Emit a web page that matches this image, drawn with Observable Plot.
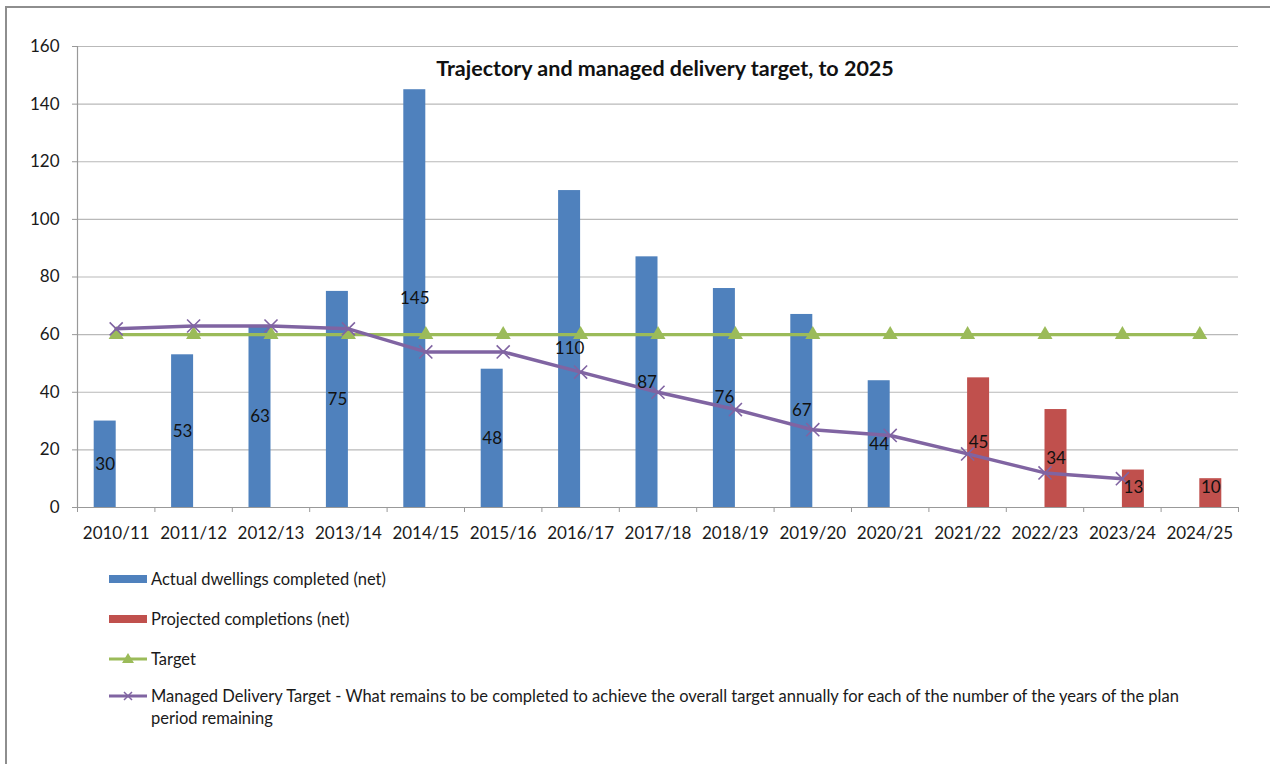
<!DOCTYPE html>
<html>
<head>
<meta charset="utf-8">
<script src="https://cdn.jsdelivr.net/npm/d3@7"></script>
<script src="https://cdn.jsdelivr.net/npm/@observablehq/plot@0.6"></script>
<style>
  body { margin: 0; background: #fff; font-family: Lato, "Open Sans", sans-serif; }
  #wrap { position: relative; width: 1270px; height: 764px; overflow: hidden; background: #fff; }
  #border { position: absolute; left: 5px; top: 6px; width: 1300px; height: 800px; border: 2px solid #8e8e8e; box-sizing: border-box; }
  #chart { position: absolute; left: 0; top: 0; }
  #legend { position: absolute; left: 109px; top: 568px; font-size: 16.5px; color: #1a1a1a; }
  .item { position: absolute; left: 0; display: flex; align-items: flex-start; white-space: nowrap; }
  .item svg { flex: none; margin-right: 4px; }
  .item span { line-height: 22px; }
</style>
</head>
<body>
<div id="wrap">
  <div id="border"></div>
  <div id="chart"></div>
  <div id="legend"></div>
</div>
<script>
// ---- data ----
const years = ["2010/11","2011/12","2012/13","2013/14","2014/15","2015/16","2016/17","2017/18","2018/19","2019/20","2020/21","2021/22","2022/23","2023/24","2024/25"];
const actualYears = years.slice(0, 11);
const actualValues = [30, 53, 63, 75, 145, 48, 110, 87, 76, 67, 44];
const projectedYears = years.slice(11);
const projectedValues = [45, 34, 13, 10];
const targetValues = [60, 60, 60, 60, 60, 60, 60, 60, 60, 60, 60, 60, 60, 60, 60];
const managedYears = years.slice(0, 14);
const managedValues = [62, 63, 63, 62, 54, 54, 47, 40, 34, 27, 25, 18.6, 12, 10];
const yTicks = [0, 20, 40, 60, 80, 100, 120, 140, 160];
const title = "Trajectory and managed delivery target, to 2025";
const seriesNames = [
  "Actual dwellings completed (net)",
  "Projected completions (net)",
  "Target",
  "Managed Delivery Target - What remains to be completed to achieve the overall target annually for each of the number of the years of the plan period remaining"
];
const colors = ["#4F81BD", "#C0504D", "#9BBB59", "#8064A2"];

// ---- tables ----
const actual = actualYears.map((y, i) => ({year: y, value: actualValues[i]}));
const projected = projectedYears.map((y, i) => ({year: y, value: projectedValues[i]}));
const target = years.map((y, i) => ({year: y, value: targetValues[i]}));
const managed = managedYears.map((y, i) => ({year: y, value: managedValues[i]}));

const W = 1270, H = 550, mL = 77, mR = 32, mT = 46, mB = 43;
const bw = (W - mL - mR) / years.length;
const barW = 22;
const font = "Lato, 'Open Sans', sans-serif";
const labelY = d => Math.max(d.value / 2, 7);

const chart = Plot.plot({
  width: W, height: H,
  marginLeft: mL, marginRight: mR, marginTop: mT, marginBottom: mB,
  style: {fontFamily: font, fontSize: "17px", color: "#1a1a1a", background: "transparent"},
  x: {type: "band", domain: years, padding: 0, round: false, label: null},
  y: {domain: [0, 160], label: null},
  marks: [
    Plot.gridY(yTicks, {stroke: "#b9b9b9", strokeOpacity: 1, strokeWidth: 1.2}),
    Plot.axisY(yTicks, {tickSize: 5, tickPadding: 13, stroke: "#999", fontSize: 17, label: null}),
    Plot.axisX({tickSize: 0, tickPadding: 19, fontSize: 17, label: null}),
    Plot.axisX({ticks: years, tickSize: 5, tickFormat: () => "", dx: -bw / 2, stroke: "#999", label: null}),
    Plot.axisX({ticks: [years[years.length - 1]], tickSize: 5, tickFormat: () => "", dx: bw / 2, stroke: "#999", label: null}),
    Plot.ruleX([years[0]], {dx: -bw / 2, stroke: "#999", strokeWidth: 1.2}),
    Plot.ruleY([0], {stroke: "#999", strokeWidth: 1.2}),
    Plot.barY(actual, {x: "year", y: "value", fill: colors[0], insetLeft: bw / 2 - barW, insetRight: bw / 2}),
    Plot.barY(projected, {x: "year", y: "value", fill: colors[1], insetLeft: bw / 2, insetRight: bw / 2 - barW}),
    Plot.line(target, {x: "year", y: "value", stroke: colors[2], strokeWidth: 3.3}),
    Plot.dot(target, {x: "year", y: "value", symbol: "triangle", fill: colors[2], r: 5.6}),
    Plot.line(managed, {x: "year", y: "value", stroke: colors[3], strokeWidth: 3.5}),
    Plot.dot(managed, {x: "year", y: "value", symbol: "times", stroke: colors[3], strokeWidth: 1.6, r: 6}),
    Plot.text(actual, {x: "year", y: labelY, text: d => String(d.value), dx: -barW / 2, fill: "#111", fontSize: 17}),
    Plot.text(projected, {x: "year", y: labelY, text: d => String(d.value), dx: barW / 2, fill: "#111", fontSize: 17}),
    Plot.text([title], {frameAnchor: "top", dy: 14, dx: 7, fontWeight: "bold", fontSize: 21.5, fill: "#111"})
  ]
});
document.getElementById("chart").appendChild(chart);

// ---- legend ----
const legend = document.getElementById("legend");
const rowsTop = [0, 40, 80, 117];
seriesNames.forEach((name, i) => {
  const item = document.createElement("div");
  item.className = "item";
  item.style.top = rowsTop[i] + "px";
  const ns = "http://www.w3.org/2000/svg";
  const svg = document.createElementNS(ns, "svg");
  svg.setAttribute("width", 38); svg.setAttribute("height", 22);
  if (i < 2) {
    const r = document.createElementNS(ns, "rect");
    r.setAttribute("x", 0); r.setAttribute("y", 7); r.setAttribute("width", 38); r.setAttribute("height", 8);
    r.setAttribute("fill", colors[i]);
    svg.appendChild(r);
  } else {
    const l = document.createElementNS(ns, "line");
    l.setAttribute("x1", 0); l.setAttribute("x2", 38); l.setAttribute("y1", 11); l.setAttribute("y2", 11);
    l.setAttribute("stroke", colors[i]); l.setAttribute("stroke-width", 3);
    svg.appendChild(l);
    const p = document.createElementNS(ns, "path");
    if (i === 2) {
      p.setAttribute("d", "M19,5 L25,15 L13,15 Z");
      p.setAttribute("fill", colors[i]);
    } else {
      p.setAttribute("d", "M15,7 L23,15 M15,15 L23,7");
      p.setAttribute("stroke", colors[i]); p.setAttribute("stroke-width", 1.5);
    }
    svg.appendChild(p);
  }
  item.appendChild(svg);
  const span = document.createElement("span");
  if (i === 3) {
    const parts = name.split(" plan ");
    span.appendChild(document.createTextNode(parts[0] + " plan"));
    span.appendChild(document.createElement("br"));
    span.appendChild(document.createTextNode(parts[1]));
  } else {
    span.textContent = name;
  }
  item.appendChild(span);
  legend.appendChild(item);
});
</script>
</body>
</html>
